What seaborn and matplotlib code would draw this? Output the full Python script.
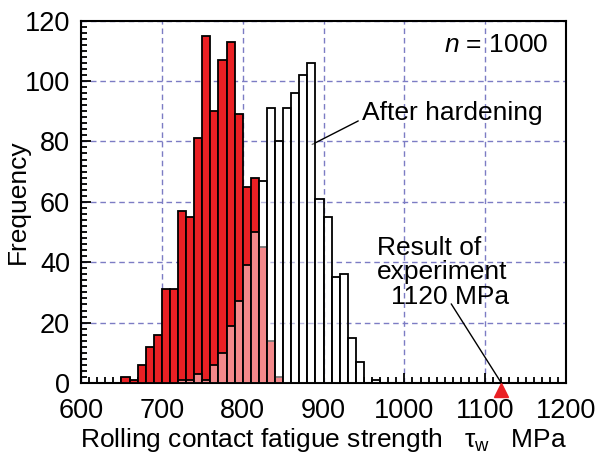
import numpy as np
import seaborn as sns
import matplotlib
matplotlib.use("Agg")
import matplotlib.pyplot as plt
from matplotlib.ticker import MultipleLocator

# bin counts, 10 MPa bins
bin_w = 10
before_left = [650, 660, 670, 680, 690, 700, 710, 720, 730, 740,
               750, 760, 770, 780, 790, 800, 810, 820, 830, 840]
before_cnt = [2, 1, 6, 12, 16, 31, 31, 57, 55, 81,
              115, 90, 107, 113, 89, 65, 68, 45, 14, 2]

after_left = [720, 730, 740, 750, 760, 770, 780, 790, 800, 810,
              820, 830, 840, 850, 860, 870, 880, 890, 900, 910,
              920, 930, 940, 950, 960]
after_cnt = [1, 1, 3, 1, 6, 10, 19, 27, 39, 50,
             67, 91, 80, 91, 96, 102, 106, 61, 55, 35,
             36, 15, 7, 0, 1]

experiment = 1120
n_total = 1000

sns.set_theme(style="white")
plt.rcParams["font.family"] = ["Liberation Sans", "DejaVu Sans"]
plt.rcParams["mathtext.fontset"] = "custom"
plt.rcParams["mathtext.rm"] = "Liberation Sans"
plt.rcParams["mathtext.it"] = "Liberation Sans:italic"
plt.rcParams["text.color"] = "black"
plt.rcParams["axes.labelcolor"] = "black"

fs = 19

fig = plt.figure(figsize=(5.98, 4.53), dpi=100)
ax = fig.add_axes([0.1355, 0.1545, 0.811, 0.8])

# before hardening (red)
sns.histplot(x=np.array(before_left) + bin_w / 2, weights=before_cnt,
             binwidth=bin_w, binrange=(650, 850), color="#ea2024",
             edgecolor="black", linewidth=1.3, alpha=1, ax=ax, zorder=3)

# after hardening (semi transparent white, black edges)
n0 = len(ax.patches)
sns.histplot(x=np.array(after_left) + bin_w / 2, weights=after_cnt,
             binwidth=bin_w, binrange=(720, 970), color="white",
             edgecolor="black", linewidth=1.3, ax=ax, zorder=4)
for p in ax.patches[n0:]:
    p.set_alpha(None)
    p.set_facecolor((1, 1, 1, 0.47))
    p.set_edgecolor("black")

ax.set_xlim(600, 1200)
ax.set_ylim(0, 120)
ax.xaxis.set_major_locator(MultipleLocator(100))
ax.xaxis.set_minor_locator(MultipleLocator(10))
ax.yaxis.set_major_locator(MultipleLocator(20))
ax.yaxis.set_minor_locator(MultipleLocator(2))
ax.tick_params(which="both", direction="in", top=False, right=False,
               bottom=True, left=True, colors="black", width=1.3)
ax.tick_params(which="major", length=7, labelsize=19.5, pad=8)
ax.tick_params(which="minor", length=4)
ax.tick_params(axis="x", which="major", pad=11)

ax.set_axisbelow(True)
ax.grid(True, which="major", color="#7c7cc4", linestyle=(0, (4, 2.8)), lw=1)
for s in ax.spines.values():
    s.set_color("black")
    s.set_linewidth(1.5)

ax.set_xlabel("Rolling contact fatigue strength   τ$_{\\mathrm{w}}$   MPa",
              fontsize=fs, labelpad=1)
ax.set_ylabel("Frequency", fontsize=fs)
ax.yaxis.set_label_coords(-0.105, 0.5)

ax.text(1178, 109.5, "$n$ = 1000", fontsize=fs, ha="right", va="baseline")

ax.annotate("After hardening", xy=(886, 79), xytext=(947, 87),
            fontsize=fs, ha="left", va="baseline",
            arrowprops=dict(arrowstyle="-", lw=1, color="black",
                            shrinkA=0, shrinkB=0, relpos=(0, 0.25)))

ax.text(966, 42.4, "Result of", fontsize=fs, ha="left", va="baseline")
ax.text(966, 34.4, "experiment", fontsize=fs, ha="left", va="baseline")
ax.text(984, 26.2, "%d MPa" % experiment, fontsize=fs, ha="left", va="baseline")
ax.plot([1058, experiment], [26.2, 0], color="black", lw=1, zorder=5)
ax.plot([experiment], [-2.3], marker="^", color="#ea2024", markersize=10,
        clip_on=False, zorder=6)

fig.savefig("out.png", dpi=100)
